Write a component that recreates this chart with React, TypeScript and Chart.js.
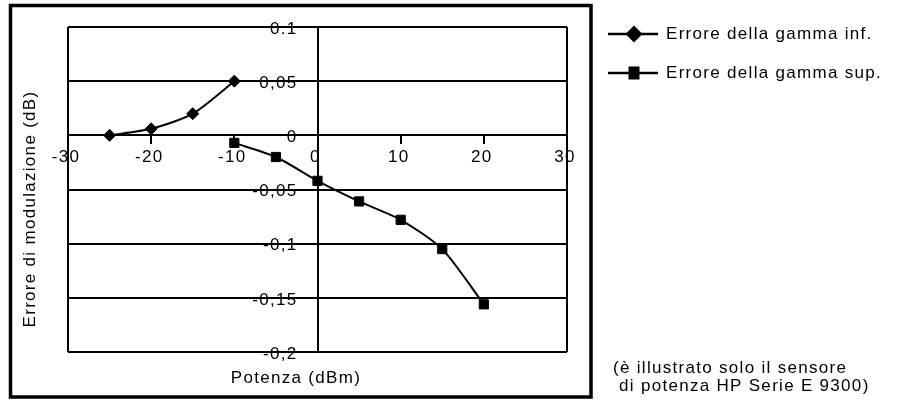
import React, { useEffect, useRef } from 'react';
import { Chart, registerables } from 'chart.js';

Chart.register(...registerables);

// Measured modulation error, lower range sensor path
const powerInf = [-25, -20, -15, -10];
const errorInf = [0, 0.006, 0.02, 0.05];

// Measured modulation error, upper range sensor path
const powerSup = [-10, -5, 0, 5, 10, 15, 20];
const errorSup = [-0.007, -0.02, -0.042, -0.061, -0.078, -0.105, -0.156];

const xTickValues = [-30, -20, -10, 0, 10, 20, 30];
const xTickLabels = ['-30', '-20', '-10', '0', '10', '20', '30'];
const yTickValues = [0.1, 0.05, 0, -0.05, -0.1, -0.15, -0.2];
const yTickLabels = ['0.1', '0,05', '0', '-0,05', '-0,1', '-0,15', '-0,2'];

const seriesNames = ['Errore della gamma inf.', 'Errore della gamma sup.'];
const xTitle = 'Potenza (dBm)';
const yTitle = 'Errore di modulazione (dB)';
const noteLines = ['(è illustrato solo il sensore', ' di potenza HP Serie E 9300)'];

const FONT = '"Liberation Sans", Arial, Helvetica, sans-serif';
const FONT_SIZE = 17;
const SPACING = '1.3px';
const INK = '#000';

function drawMarker(ctx: CanvasRenderingContext2D, style: string, x: number, y: number) {
  ctx.beginPath();
  if (style === 'rectRot') {
    const r = 8.5;
    ctx.moveTo(x - r, y);
    ctx.lineTo(x, y - r);
    ctx.lineTo(x + r, y);
    ctx.lineTo(x, y + r);
    ctx.closePath();
  } else {
    ctx.rect(x - 5.5, y - 6.5, 11, 13);
  }
  ctx.fill();
}

// Outer frame, y tick labels beside the crossing axis, axis titles, legend and footnote
const decorations = {
  id: 'decorations',
  beforeDraw(chart: any) {
    (chart.ctx as any).letterSpacing = SPACING;
  },
  afterDraw(chart: any) {
    const ctx = chart.ctx as CanvasRenderingContext2D;
    ctx.save();
    (ctx as any).letterSpacing = SPACING;
    ctx.strokeStyle = INK;
    ctx.lineWidth = 3.5;
    ctx.strokeRect(10.5, 5.5, 580.5, 391.5);

    ctx.fillStyle = INK;
    ctx.font = `${FONT_SIZE}px ${FONT}`;

    // y tick labels, right-aligned left of the vertical axis at x = 0
    const xs = chart.scales.x;
    const ys = chart.scales.y;
    const axisX = xs.getPixelForValue(0);
    ctx.textAlign = 'right';
    ctx.textBaseline = 'middle';
    ys.ticks.forEach((t: any, i: number) => {
      ctx.fillText(yTickLabels[i], axisX - 20, ys.getPixelForValue(t.value) + 2);
    });

    ctx.textAlign = 'center';
    ctx.fillText(xTitle, 296, 378);

    ctx.save();
    ctx.translate(30, 209);
    ctx.rotate(-Math.PI / 2);
    ctx.fillText(yTitle, 0, 0);
    ctx.restore();

    // legend entries
    ctx.textAlign = 'left';
    chart.data.datasets.forEach((ds: any, i: number) => {
      const y = 34 + i * 39;
      ctx.strokeStyle = ds.borderColor;
      ctx.lineWidth = 2.5;
      ctx.beginPath();
      ctx.moveTo(608, y);
      ctx.lineTo(658, y);
      ctx.stroke();
      ctx.fillStyle = ds.pointBackgroundColor;
      drawMarker(ctx, ds.pointStyle, 634, y);
      ctx.fillStyle = INK;
      ctx.fillText(ds.label, 666, y);
    });

    noteLines.forEach((t, i) => ctx.fillText(t, 613, 368 + i * 18));
    ctx.restore();
  },
};

export default function App() {
  const canvasRef = useRef<HTMLCanvasElement | null>(null);

  useEffect(() => {
    document.body.style.margin = '0';
    const canvas = canvasRef.current;
    if (!canvas) return;

    const tickFont = { family: FONT, size: FONT_SIZE };

    const chart = new Chart(canvas, {
      type: 'line',
      data: {
        datasets: [
          {
            label: seriesNames[0],
            data: powerInf.map((x, i) => ({ x, y: errorInf[i] })),
            borderColor: INK,
            backgroundColor: INK,
            pointBackgroundColor: INK,
            pointBorderColor: INK,
            borderWidth: 2,
            pointStyle: 'rectRot',
            pointRadius: 6,
            pointBorderWidth: 1,
            tension: 0.25,
          },
          {
            label: seriesNames[1],
            data: powerSup.map((x, i) => ({ x, y: errorSup[i] })),
            borderColor: INK,
            backgroundColor: INK,
            pointBackgroundColor: INK,
            pointBorderColor: INK,
            borderWidth: 2,
            pointStyle: 'rect',
            pointRadius: 6.5,
            pointBorderWidth: 1,
            tension: 0.25,
          },
        ],
      },
      options: {
        responsive: false,
        animation: false,
        layout: { padding: { left: 68, right: 334, top: 27, bottom: 50 } },
        plugins: {
          legend: { display: false },
          tooltip: { enabled: false },
        },
        scales: {
          x: {
            type: 'linear',
            position: { y: 0 },
            min: -30,
            max: 30,
            afterBuildTicks: (scale: any) => {
              scale.ticks = xTickValues.map((v) => ({ value: v }));
            },
            ticks: {
              font: tickFont,
              color: INK,
              padding: 4,
              labelOffset: -2,
              maxRotation: 0,
              autoSkip: false,
              callback: (_v: any, i: number) => xTickLabels[i],
            },
            grid: {
              color: (c: any) => (c.tick && (c.tick.value === -30 || c.tick.value === 30) ? INK : 'rgba(0,0,0,0)'),
              tickColor: INK,
              lineWidth: 2,
              tickLength: 8,
            },
            border: { display: true, color: INK, width: 2 },
          },
          y: {
            type: 'linear',
            position: { x: 0 },
            min: -0.2,
            max: 0.1,
            afterBuildTicks: (scale: any) => {
              scale.ticks = yTickValues.map((v) => ({ value: v }));
            },
            ticks: { display: false },
            grid: {
              color: INK,
              lineWidth: 2,
              drawTicks: false,
            },
            border: { display: true, color: INK, width: 2 },
          },
        },
      },
      plugins: [decorations],
    } as any);

    return () => chart.destroy();
  }, []);

  return (
    <div style={{ width: 901, height: 402, background: '#fff' }}>
      <canvas ref={canvasRef} width={901} height={402} style={{ display: 'block' }} />
    </div>
  );
}
